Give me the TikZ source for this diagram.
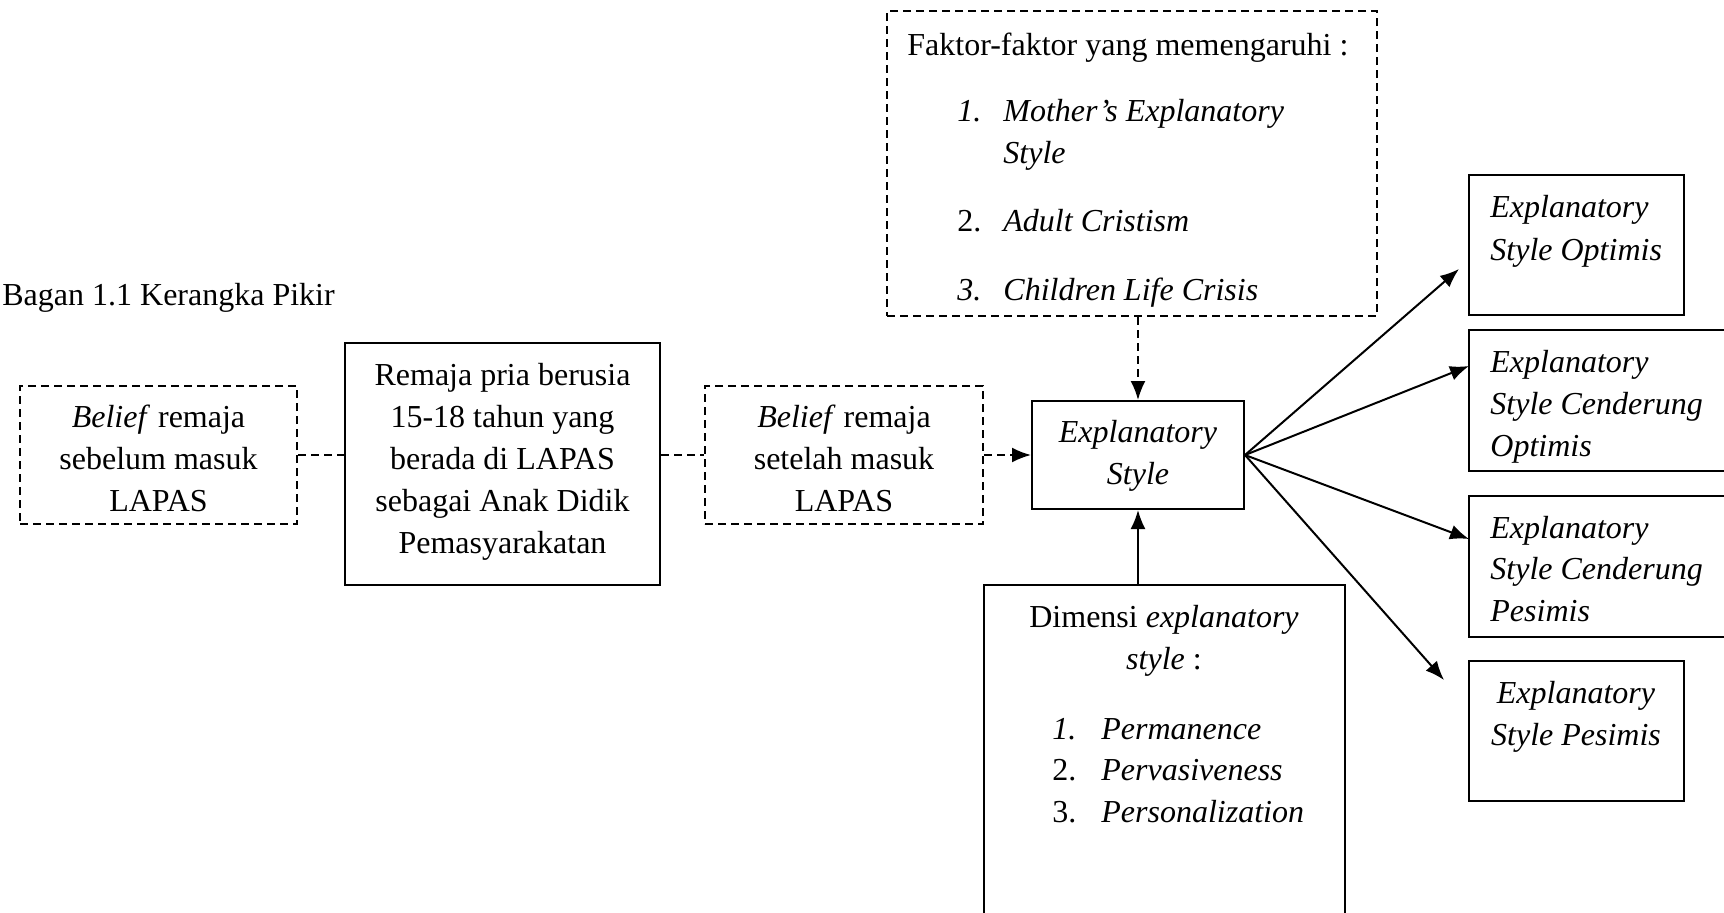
\documentclass[tikz,border=0pt]{standalone}
\usepackage{fontspec}
\setmainfont{Liberation Serif}
\usetikzlibrary{arrows.meta}
\begin{document}
\begin{tikzpicture}[x=0.5pt,y=-0.5pt,
  box/.style={draw, line width=1pt, inner sep=0pt, align=center, font=\fontsize{16}{21}\selectfont},
  dbox/.style={box, dash pattern=on 4pt off 2.5pt},
  txt/.style={inner sep=0pt, anchor=base west, font=\fontsize{16}{21}\selectfont},
  ctxt/.style={inner sep=0pt, align=center, font=\fontsize{16}{21}\selectfont},
  btxt/.style={inner sep=0pt, anchor=base, font=\fontsize{16}{21}\selectfont},
  arr/.style={line width=1pt, -{Latex[length=9.5pt,width=7.5pt]}},
  darr/.style={arr, dash pattern=on 4pt off 2.5pt},
  dline/.style={line width=1pt, dash pattern=on 4pt off 2.5pt}]
\useasboundingbox (0,0) rectangle (1724,912);
\clip (0,0) rectangle (1724,912);

% title
\node[txt] (title) at (2,305) {Bagan 1.1 Kerangka Pikir};

% left chain
\node[dbox, minimum width=138.5pt, minimum height=69pt] (bl) at (158.5,455) {};
\node[ctxt] (blt) at (158.5,458) {\textit{Belief} remaja\\sebelum masuk\\LAPAS};
\node[box, minimum width=157.5pt, minimum height=121pt] (rem) at (502.5,464) {};
\node[ctxt] (remt) at (502.5,462)
  {Remaja pria berusia\\15-18 tahun yang\\berada di LAPAS\\sebagai Anak Didik\\Pemasyarakatan};
\node[dbox, minimum width=139pt, minimum height=69pt] (br) at (844,455) {};
\node[ctxt] (brt) at (844,458) {\textit{Belief} remaja\\setelah masuk\\LAPAS};
\node[box, minimum width=106pt, minimum height=54pt] (es) at (1138,455) {};
\node[ctxt] (est) at (1138,456) {\textit{Explanatory}\\\textit{Style}};

% factors box
\node[dbox, minimum width=245pt, minimum height=152.5pt] (fak) at (1132,163.5) {};
\node[txt] (f0) at (907,55) {Faktor-faktor yang memengaruhi :};
\node[txt] (f1n) at (957,121) {\textit{1.}};
\node[txt] (f1) at (1003,121) {\textit{Mother’s Explanatory}};
\node[txt] (f1b) at (1003,163) {\textit{Style}};
\node[txt] (f2n) at (957,231) {2.};
\node[txt] (f2) at (1003,231) {\textit{Adult Cristism}};
\node[txt] (f3n) at (957,300) {\textit{3.}};
\node[txt] (f3) at (1003,300) {\textit{Children Life Crisis}};

% dimensions box
\node[box, minimum width=180.5pt, minimum height=175pt] (dim) at (1164,760) {};
\node[btxt] (d0) at (1164,627) {Dimensi \textit{explanatory}};
\node[btxt] (d0b) at (1164,669) {\textit{style} :};
\node[txt] (d1n) at (1052,739) {\textit{1.}};
\node[txt] (d1) at (1101,739) {\textit{Permanence}};
\node[txt] (d2n) at (1052,780) {2.};
\node[txt] (d2) at (1101,780) {\textit{Pervasiveness}};
\node[txt] (d3n) at (1052,822) {3.};
\node[txt] (d3) at (1101,822) {\textit{Personalization}};

% outcome boxes
\node[box, minimum width=107.5pt, minimum height=70pt] (opt) at (1576.5,244.5) {};
\node[txt] (opt1) at (1490,217) {\textit{Explanatory}};
\node[txt] (opt2) at (1490,260) {\textit{Style Optimis}};

\node[box, minimum width=138pt, minimum height=70.5pt] (co) at (1607,400.5) {};
\node[txt] (co1) at (1490,372) {\textit{Explanatory}};
\node[txt] (co2) at (1490,414) {\textit{Style Cenderung}};
\node[txt] (co3) at (1490,456) {\textit{Optimis}};

\node[box, minimum width=138pt, minimum height=70.5pt] (cp) at (1607,566.5) {};
\node[txt] (cp1) at (1490,538) {\textit{Explanatory}};
\node[txt] (cp2) at (1490,579) {\textit{Style Cenderung}};
\node[txt] (cp3) at (1490,621) {\textit{Pesimis}};

\node[box, minimum width=107.5pt, minimum height=70pt] (pes) at (1576.5,730.5) {};
\node[btxt] (pes1) at (1576,703) {\textit{Explanatory}};
\node[btxt] (pes2) at (1576,745) {\textit{Style Pesimis}};

% arrow ends
\coordinate (t1) at (1459,269);
\coordinate (t2) at (1469,366);
\coordinate (t3) at (1469,539);
\coordinate (t4) at (1444,680);

% connectors
\draw[dline] (bl.east) -- (bl.east -| rem.west);
\draw[dline] (br.west -| rem.east) -- (br.west);
\draw[darr] (br.east) -- (es.west);
\draw[darr] (fak.south -| es.north) -- (es.north);
\draw[arr] (dim.north -| es.south) -- (es.south);
\draw[arr] (es.east) -- (t1);
\draw[arr] (es.east) -- (t2);
\draw[arr] (es.east) -- (t3);
\draw[arr] (es.east) -- (t4);
\end{tikzpicture}
\end{document}
